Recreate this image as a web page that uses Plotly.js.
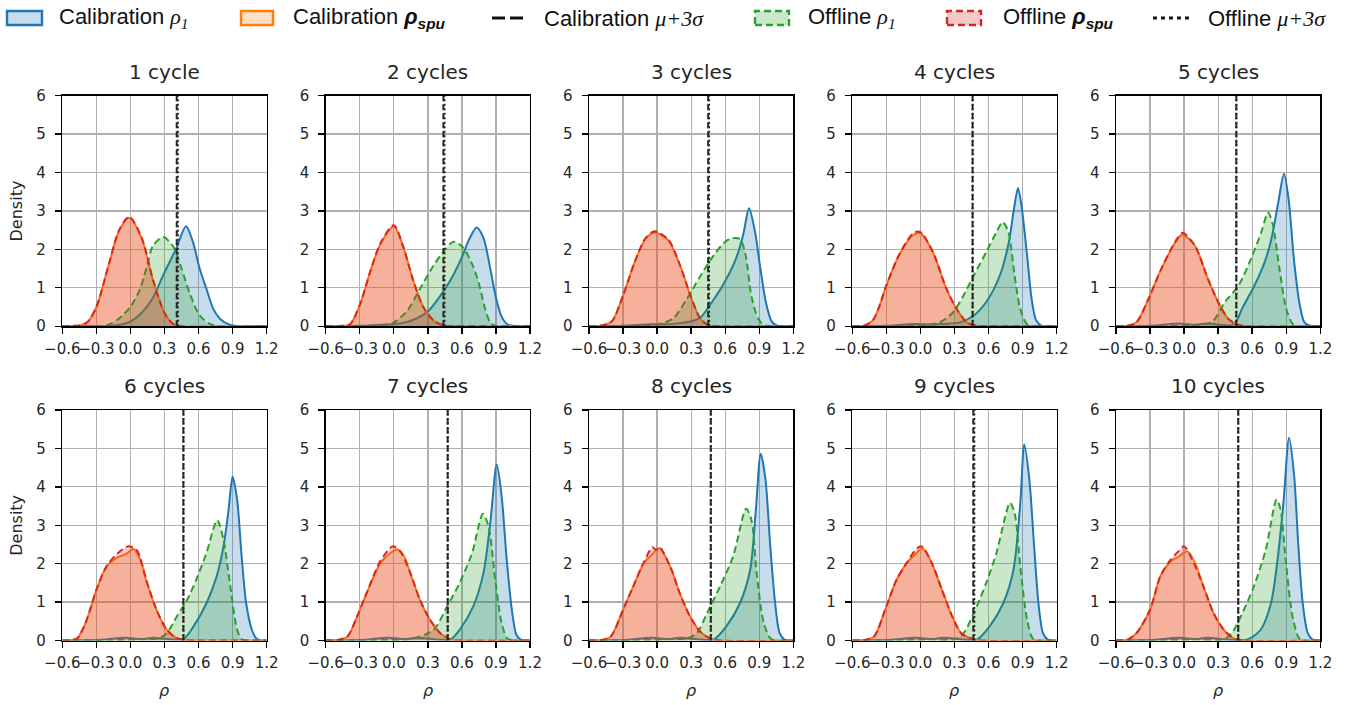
<!DOCTYPE html>
<html><head><meta charset="utf-8">
<script src="https://cdn.plot.ly/plotly-3.0.1.min.js"></script>
<style>html,body{margin:0;padding:0;background:#fff}#chart{width:1362px;height:705px}</style>
</head><body><div id="chart"></div>
<script>
// ---------------- data ----------------
const cycleTitles = ['1 cycle','2 cycles','3 cycles','4 cycles','5 cycles','6 cycles','7 cycles','8 cycles','9 cycles','10 cycles'];
const xTickVals = [-0.6,-0.3,0,0.3,0.6,0.9,1.2];
const xTickText = ['\u22120.6','\u22120.3','0.0','0.3','0.6','0.9','1.2'];
const yTickVals = [0,1,2,3,4,5,6];
const legendLabels = [
  'Calibration <span style="font-family:Liberation Serif"><i>ρ</i><sub><i>1</i></sub></span>',
  'Calibration <b><i>ρ</i></b><sub><b><i>spu</i></b></sub>',
  'Calibration <span style="font-family:Liberation Serif"><i>μ+3σ</i></span>',
  'Offline <span style="font-family:Liberation Serif"><i>ρ</i><sub><i>1</i></sub></span>',
  'Offline <b><i>ρ</i></b><sub><b><i>spu</i></b></sub>',
  'Offline <span style="font-family:Liberation Serif"><i>μ+3σ</i></span>'
];
const calThreshold = [0.408,0.437,0.45,0.46,0.46,0.467,0.475,0.473,0.466,0.477];
const offThreshold = [0.418,0.447,0.458,0.46,0.46,0.467,0.475,0.473,0.475,0.477];

// Calibration rho_1 density, [rho, density] points per cycle
const calRho1 = [
 [[-0.6,0],[-0.25,0],[-0.1,0.03],[0,0.12],[0.1,0.35],[0.2,0.75],[0.3,1.4],[0.4,2.0],[0.49,2.6],[0.55,2.2],[0.61,1.5],[0.67,0.97],[0.73,0.45],[0.79,0.19],[0.88,0.03],[0.95,0],[1.2,0]],
 [[-0.6,0],[-0.3,0.01],[-0.12,0.04],[0,0.05],[0.1,0.1],[0.2,0.2],[0.3,0.38],[0.4,0.75],[0.5,1.2],[0.6,1.8],[0.67,2.3],[0.73,2.57],[0.79,2.3],[0.85,1.5],[0.9,0.75],[0.95,0.25],[1.0,0.05],[1.08,0],[1.2,0]],
 [[-0.6,0],[-0.3,0.01],[-0.05,0.05],[0.1,0.05],[0.2,0.08],[0.3,0.13],[0.38,0.22],[0.5,0.7],[0.61,1.23],[0.7,1.8],[0.76,2.4],[0.81,3.07],[0.86,2.5],[0.91,1.5],[0.96,0.6],[1.01,0.12],[1.06,0.01],[1.2,0]],
 [[-0.6,0],[-0.3,0.01],[-0.05,0.06],[0.1,0.04],[0.2,0.06],[0.35,0.1],[0.47,0.28],[0.58,0.63],[0.7,1.32],[0.78,2.2],[0.82,2.97],[0.86,3.6],[0.89,3.15],[0.94,1.84],[0.98,0.71],[1.02,0.15],[1.07,0.01],[1.2,0]],
 [[-0.6,0],[-0.3,0.01],[-0.05,0.07],[0.1,0.04],[0.2,0.07],[0.35,0.03],[0.42,0.03],[0.47,0.18],[0.51,0.45],[0.62,1.06],[0.71,1.67],[0.77,2.28],[0.83,3.23],[0.88,3.97],[0.92,3.32],[0.97,1.67],[1.02,0.54],[1.06,0.1],[1.11,0.01],[1.2,0]],
 [[-0.6,0],[-0.3,0.01],[-0.05,0.07],[0.1,0.04],[0.2,0.07],[0.35,0.03],[0.47,0.05],[0.555,0.36],[0.67,0.97],[0.76,1.67],[0.82,2.45],[0.865,3.4],[0.9,4.26],[0.94,3.67],[0.98,2.19],[1.02,0.97],[1.07,0.28],[1.11,0.05],[1.15,0],[1.2,0]],
 [[-0.6,0],[-0.3,0.01],[-0.05,0.07],[0.1,0.04],[0.2,0.07],[0.4,0.02],[0.5,0.03],[0.58,0.28],[0.7,0.89],[0.79,1.76],[0.85,3.06],[0.907,4.58],[0.95,3.76],[0.995,2.1],[1.04,0.8],[1.08,0.15],[1.12,0.02],[1.2,0]],
 [[-0.6,0],[-0.3,0.01],[-0.05,0.07],[0.1,0.04],[0.2,0.07],[0.4,0.02],[0.5,0.03],[0.61,0.37],[0.73,0.97],[0.82,1.84],[0.87,3.4],[0.913,4.86],[0.955,4.19],[0.995,2.54],[1.04,0.97],[1.08,0.19],[1.12,0.03],[1.2,0]],
 [[-0.6,0],[-0.3,0.01],[-0.05,0.07],[0.1,0.04],[0.2,0.07],[0.4,0.02],[0.5,0.03],[0.61,0.37],[0.73,0.97],[0.82,1.84],[0.88,3.58],[0.915,5.1],[0.96,4.19],[1.0,2.54],[1.04,0.97],[1.08,0.19],[1.12,0.03],[1.2,0]],
 [[-0.6,0],[-0.3,0.01],[-0.05,0.07],[0.1,0.04],[0.2,0.07],[0.4,0.02],[0.56,0.03],[0.675,0.28],[0.765,0.97],[0.82,2.02],[0.875,3.58],[0.925,5.28],[0.97,4.28],[1.005,2.54],[1.045,0.97],[1.09,0.19],[1.13,0.03],[1.2,0]]
];

// Calibration rho_spu density
const calRhoSpu = [
 [[-0.6,0],[-0.5,0.01],[-0.45,0.02],[-0.38,0.1],[-0.3,0.5],[-0.2,1.5],[-0.1,2.48],[-0.01,2.82],[0.1,2.28],[0.2,1.2],[0.3,0.35],[0.38,0.05],[0.45,0],[1.2,0]],
 [[-0.6,0],[-0.45,0.01],[-0.385,0.05],[-0.3,0.55],[-0.21,1.4],[-0.12,2.12],[0,2.6],[0.085,2.05],[0.17,1.2],[0.26,0.5],[0.35,0.15],[0.44,0.02],[0.55,0],[1.2,0]],
 [[-0.6,0],[-0.5,0.01],[-0.4,0.12],[-0.3,0.8],[-0.2,1.65],[-0.1,2.28],[-0.02,2.43],[0.1,2.23],[0.2,1.6],[0.3,0.75],[0.38,0.2],[0.45,0.03],[0.52,0],[1.2,0]],
 [[-0.6,0],[-0.5,0.01],[-0.42,0.15],[-0.37,0.45],[-0.3,1.06],[-0.18,1.9],[-0.06,2.38],[0,2.42],[0.11,1.93],[0.23,0.97],[0.32,0.45],[0.41,0.1],[0.5,0.01],[0.6,0],[1.2,0]],
 [[-0.6,0],[-0.5,0.01],[-0.42,0.1],[-0.32,0.67],[-0.2,1.5],[-0.08,2.17],[-0.015,2.38],[0.095,2.1],[0.21,1.23],[0.3,0.63],[0.39,0.19],[0.48,0.03],[0.55,0],[1.2,0]],
 [[-0.6,0],[-0.52,0.01],[-0.47,0.05],[-0.41,0.35],[-0.355,0.8],[-0.3,1.32],[-0.21,1.93],[-0.12,2.15],[-0.04,2.25],[0.03,2.38],[0.1,2.0],[0.14,1.57],[0.23,0.8],[0.32,0.28],[0.41,0.06],[0.5,0.01],[0.6,0],[1.2,0]],
 [[-0.6,0],[-0.5,0.01],[-0.41,0.1],[-0.33,0.58],[-0.24,1.23],[-0.12,2.0],[-0.04,2.25],[0.03,2.37],[0.09,2.2],[0.145,1.76],[0.23,1.06],[0.32,0.54],[0.41,0.19],[0.5,0.03],[0.58,0],[1.2,0]],
 [[-0.6,0],[-0.5,0.01],[-0.41,0.1],[-0.3,0.8],[-0.21,1.41],[-0.12,2.0],[-0.05,2.22],[0.02,2.4],[0.115,1.93],[0.2,1.23],[0.29,0.63],[0.38,0.23],[0.47,0.05],[0.55,0],[1.2,0]],
 [[-0.6,0],[-0.5,0.01],[-0.41,0.1],[-0.3,0.89],[-0.21,1.58],[-0.12,2.02],[-0.06,2.2],[0.02,2.4],[0.1,2.02],[0.19,1.32],[0.28,0.63],[0.36,0.19],[0.45,0.05],[0.53,0],[1.2,0]],
 [[-0.6,0],[-0.5,0.02],[-0.42,0.19],[-0.3,0.8],[-0.21,1.67],[-0.12,2.05],[-0.05,2.18],[0.03,2.32],[0.1,2.0],[0.17,1.41],[0.26,0.71],[0.35,0.28],[0.44,0.05],[0.52,0],[1.2,0]]
];

// Offline rho_1 density
const offRho1 = [
 [[-0.6,0],[-0.3,0],[-0.2,0.03],[-0.1,0.2],[0,0.5],[0.085,0.97],[0.14,1.5],[0.2,2.1],[0.29,2.32],[0.38,2.06],[0.45,1.5],[0.53,0.8],[0.61,0.28],[0.7,0.06],[0.78,0],[1.2,0]],
 [[-0.6,0],[-0.2,0.01],[-0.03,0.05],[0.11,0.37],[0.23,0.97],[0.35,1.58],[0.44,1.95],[0.525,2.2],[0.61,2.05],[0.7,1.55],[0.76,1.0],[0.8,0.5],[0.85,0.1],[0.9,0],[1.2,0]],
 [[-0.6,0],[-0.2,0.01],[0,0.04],[0.14,0.2],[0.26,0.7],[0.38,1.3],[0.5,1.85],[0.6,2.2],[0.66,2.29],[0.73,2.27],[0.78,1.85],[0.83,0.8],[0.89,0.2],[0.94,0.03],[1.0,0],[1.2,0]],
 [[-0.6,0],[-0.2,0.01],[0,0.03],[0.17,0.1],[0.29,0.37],[0.38,0.8],[0.47,1.32],[0.58,1.93],[0.67,2.45],[0.725,2.71],[0.775,2.45],[0.83,1.32],[0.88,0.45],[0.94,0.05],[1.0,0],[1.2,0]],
 [[-0.6,0],[-0.2,0.01],[0,0.02],[0.24,0.1],[0.36,0.63],[0.48,1.06],[0.59,1.76],[0.68,2.45],[0.74,2.96],[0.78,2.67],[0.84,1.5],[0.9,0.45],[0.96,0.05],[1.02,0],[1.2,0]],
 [[-0.6,0],[-0.2,0.01],[0.1,0.03],[0.25,0.06],[0.32,0.19],[0.41,0.63],[0.5,1.06],[0.58,1.58],[0.67,2.28],[0.765,3.13],[0.82,2.63],[0.88,1.41],[0.94,0.28],[0.98,0.03],[1.03,0],[1.2,0]],
 [[-0.6,0],[-0.2,0.01],[0.17,0.05],[0.35,0.28],[0.47,0.89],[0.58,1.5],[0.69,2.28],[0.785,3.3],[0.835,2.97],[0.89,1.67],[0.95,0.45],[1.0,0.05],[1.05,0],[1.2,0]],
 [[-0.6,0],[-0.2,0.01],[0.1,0.03],[0.26,0.05],[0.35,0.19],[0.44,0.71],[0.555,1.41],[0.67,2.19],[0.785,3.43],[0.83,3.15],[0.88,1.67],[0.94,0.45],[1.0,0.05],[1.05,0],[1.2,0]],
 [[-0.6,0],[-0.2,0.01],[0.1,0.03],[0.3,0.03],[0.38,0.19],[0.47,0.71],[0.58,1.5],[0.67,2.28],[0.79,3.58],[0.83,3.32],[0.88,1.93],[0.94,0.54],[0.99,0.05],[1.04,0],[1.2,0]],
 [[-0.6,0],[-0.2,0.01],[0.1,0.03],[0.35,0.03],[0.42,0.19],[0.5,0.63],[0.615,1.41],[0.72,2.37],[0.815,3.67],[0.85,3.41],[0.895,2.1],[0.955,0.63],[1.015,0.05],[1.06,0],[1.2,0]]
];

// Offline rho_spu density
const offRhoSpu = [
 [[-0.6,0],[-0.5,0.01],[-0.45,0.02],[-0.38,0.1],[-0.3,0.5],[-0.2,1.5],[-0.1,2.5],[-0.01,2.85],[0.1,2.3],[0.2,1.2],[0.3,0.35],[0.38,0.05],[0.45,0],[1.2,0]],
 [[-0.6,0],[-0.45,0.01],[-0.385,0.05],[-0.3,0.55],[-0.21,1.4],[-0.12,2.15],[0,2.63],[0.085,2.05],[0.17,1.2],[0.26,0.5],[0.35,0.15],[0.44,0.02],[0.55,0],[1.2,0]],
 [[-0.6,0],[-0.5,0.01],[-0.4,0.12],[-0.3,0.8],[-0.2,1.65],[-0.1,2.3],[-0.02,2.47],[0.1,2.25],[0.2,1.6],[0.3,0.75],[0.38,0.2],[0.45,0.03],[0.52,0],[1.2,0]],
 [[-0.6,0],[-0.5,0.01],[-0.42,0.15],[-0.37,0.45],[-0.3,1.06],[-0.18,1.9],[-0.06,2.43],[0,2.45],[0.11,1.93],[0.23,0.97],[0.32,0.45],[0.41,0.1],[0.5,0.01],[0.6,0],[1.2,0]],
 [[-0.6,0],[-0.5,0.01],[-0.42,0.1],[-0.32,0.67],[-0.2,1.5],[-0.08,2.19],[-0.015,2.43],[0.095,2.1],[0.21,1.23],[0.3,0.63],[0.39,0.19],[0.48,0.03],[0.55,0],[1.2,0]],
 [[-0.6,0],[-0.52,0.01],[-0.47,0.05],[-0.41,0.35],[-0.355,0.8],[-0.3,1.32],[-0.21,1.93],[-0.12,2.25],[-0.02,2.45],[0.055,2.36],[0.14,1.57],[0.23,0.8],[0.32,0.28],[0.41,0.06],[0.5,0.01],[0.6,0],[1.2,0]],
 [[-0.6,0],[-0.5,0.01],[-0.41,0.1],[-0.33,0.58],[-0.24,1.23],[-0.12,2.06],[-0.01,2.45],[0.055,2.33],[0.145,1.76],[0.23,1.06],[0.32,0.54],[0.41,0.19],[0.5,0.03],[0.58,0],[1.2,0]],
 [[-0.6,0],[-0.5,0.01],[-0.41,0.1],[-0.3,0.8],[-0.21,1.41],[-0.12,2.02],[-0.04,2.43],[-0.01,2.36],[0.02,2.43],[0.115,1.93],[0.2,1.23],[0.29,0.63],[0.38,0.23],[0.47,0.05],[0.55,0],[1.2,0]],
 [[-0.6,0],[-0.5,0.01],[-0.41,0.1],[-0.3,0.89],[-0.21,1.58],[-0.12,2.02],[-0.04,2.37],[0.01,2.45],[0.1,2.02],[0.19,1.32],[0.28,0.63],[0.36,0.19],[0.45,0.05],[0.53,0],[1.2,0]],
 [[-0.6,0],[-0.5,0.02],[-0.42,0.19],[-0.3,0.8],[-0.21,1.67],[-0.12,2.1],[-0.05,2.32],[0,2.45],[0.085,2.02],[0.17,1.41],[0.26,0.71],[0.35,0.28],[0.44,0.05],[0.52,0],[1.2,0]]
];

// ---------------- styling / layout ----------------
const W = 1362, H = 705;
const colLeft = [62.3, 325.7, 589, 852.3, 1116];
const colW = 204.3;
const rowTop = [95.7, 410];
const rowH = 230.5;
const txtColor = '#262626';

const styles = {
  calRho1:   {line:'#1f77b4', fill:'rgba(31,119,180,0.25)', dash:'solid'},
  calRhoSpu: {line:'#ff7f0e', fill:'rgba(255,127,14,0.25)', dash:'solid'},
  offRho1:   {line:'#2ca02c', fill:'rgba(44,160,44,0.25)', dash:'7px,4px'},
  offRhoSpu: {line:'#d62728', fill:'rgba(214,39,40,0.25)', dash:'7px,4px'}
};

function curve(points, st, xa, ya) {
  return {
    x: points.map(p => p[0]), y: points.map(p => p[1]),
    type: 'scatter', mode: 'lines', xaxis: xa, yaxis: ya,
    line: {color: st.line, width: 2, dash: st.dash, shape: 'spline', smoothing: 0.8},
    fill: 'tozeroy', fillcolor: st.fill,
    showlegend: false, hoverinfo: 'skip'
  };
}
function vline(t, dash, xa, ya) {
  return {
    x: [t, t], y: [0, 6], type: 'scatter', mode: 'lines', xaxis: xa, yaxis: ya,
    line: {color: '#262626', width: 2, dash: dash},
    showlegend: false, hoverinfo: 'skip'
  };
}

const traces = [];
const annotations = [];
const shapes = [];
const layout = {
  width: W, height: H,
  margin: {l: 0, r: 0, t: 0, b: 0},
  paper_bgcolor: '#fff', plot_bgcolor: '#fff',
  showlegend: false,
  font: {family: 'DejaVu Sans', size: 15, color: txtColor}
};

const axisCommon = {
  showline: true, mirror: true, linecolor: '#000', linewidth: 1.4,
  ticks: 'outside', ticklen: 6, tickwidth: 1.4, tickcolor: '#000',
  showgrid: true, gridcolor: '#b0b0b0', gridwidth: 1.3, zeroline: false,
  tickfont: {family: 'DejaVu Sans', size: 15, color: txtColor},
  tickangle: 0, fixedrange: true
};

for (let i = 0; i < 10; i++) {
  const r = Math.floor(i / 5), c = i % 5;
  const suf = i === 0 ? '' : String(i + 1);
  const xa = 'x' + suf, ya = 'y' + suf;
  layout['xaxis' + suf] = Object.assign({}, axisCommon, {
    domain: [colLeft[c] / W, (colLeft[c] + colW) / W], anchor: ya,
    range: [-0.6, 1.2], tickmode: 'array', tickvals: xTickVals, ticktext: xTickText,
    ticklabelstandoff: 2
  });
  layout['yaxis' + suf] = Object.assign({}, axisCommon, {
    domain: [1 - (rowTop[r] + rowH) / H, 1 - rowTop[r] / H], anchor: xa,
    range: [0, 6], tickmode: 'array', tickvals: yTickVals, ticktext: yTickVals.map(String),
    ticklabelstandoff: 6
  });
  traces.push(curve(calRho1[i], styles.calRho1, xa, ya));
  traces.push(curve(calRhoSpu[i], styles.calRhoSpu, xa, ya));
  traces.push(curve(offRho1[i], styles.offRho1, xa, ya));
  traces.push(curve(offRhoSpu[i], styles.offRhoSpu, xa, ya));
  traces.push(vline(calThreshold[i], '6px,3px', xa, ya));
  traces.push(vline(offThreshold[i], '2px,2.5px', xa, ya));

  // subplot title
  annotations.push({
    text: cycleTitles[i], xref: 'paper', yref: 'paper',
    x: (colLeft[c] + colW / 2) / W, y: 1 - (rowTop[r] - 24) / H,
    xanchor: 'center', yanchor: 'middle', showarrow: false,
    font: {family: 'DejaVu Sans', size: 20, color: txtColor}
  });
  if (c === 0) {
    annotations.push({
      text: 'Density', xref: 'paper', yref: 'paper', textangle: -90,
      x: 16.5 / W, y: 1 - (rowTop[r] + rowH / 2) / H,
      xanchor: 'center', yanchor: 'middle', showarrow: false,
      font: {family: 'DejaVu Sans', size: 16, color: txtColor}
    });
  }
  if (r === 1) {
    annotations.push({
      text: '<i>ρ</i>', xref: 'paper', yref: 'paper',
      x: (colLeft[c] + colW / 2) / W, y: 1 - 690 / H,
      xanchor: 'center', yanchor: 'middle', showarrow: false,
      font: {family: 'DejaVu Sans', size: 16, color: txtColor}
    });
  }
}

// ---------------- legend (top) ----------------
const legY = 18;
const legItems = [
  {kind: 'patch', st: styles.calRho1,   x0: 7,    x1: 42,   tx: 57},
  {kind: 'patch', st: styles.calRhoSpu, x0: 241,  x1: 273,  tx: 291},
  {kind: 'line',  dash: 'dash',         x0: 492,  x1: 526,  tx: 542},
  {kind: 'patch', st: styles.offRho1,   x0: 755,  x1: 789,  tx: 806},
  {kind: 'patch', st: styles.offRhoSpu, x0: 947,  x1: 981,  tx: 1001},
  {kind: 'line',  dash: 'dot',          x0: 1153, x1: 1190, tx: 1206}
];
legItems.forEach((it, k) => {
  if (it.kind === 'patch') {
    shapes.push({
      type: 'rect', xref: 'paper', yref: 'paper', layer: 'above',
      x0: it.x0 / W, x1: it.x1 / W, y0: 1 - (legY + 7) / H, y1: 1 - (legY - 7) / H,
      fillcolor: it.st.fill,
      line: {color: it.st.line, width: 2.4, dash: it.st.dash === 'solid' ? 'solid' : '7px,4px'}
    });
  } else {
    shapes.push({
      type: 'line', xref: 'paper', yref: 'paper', layer: 'above',
      x0: it.x0 / W, x1: it.x1 / W, y0: 1 - legY / H, y1: 1 - legY / H,
      line: {color: '#111', width: 3, dash: it.dash === 'dash' ? '13px,5px' : '4px,4px'}
    });
  }
  annotations.push({
    text: legendLabels[k], xref: 'paper', yref: 'paper',
    x: it.tx / W, y: 1 - legY / H, xanchor: 'left', yanchor: 'middle', showarrow: false,
    font: {family: 'Liberation Sans', size: 22, color: '#111'}
  });
});

layout.annotations = annotations;
layout.shapes = shapes;

Plotly.newPlot('chart', traces, layout, {staticPlot: true, displayModeBar: false});
</script>
</body></html>
